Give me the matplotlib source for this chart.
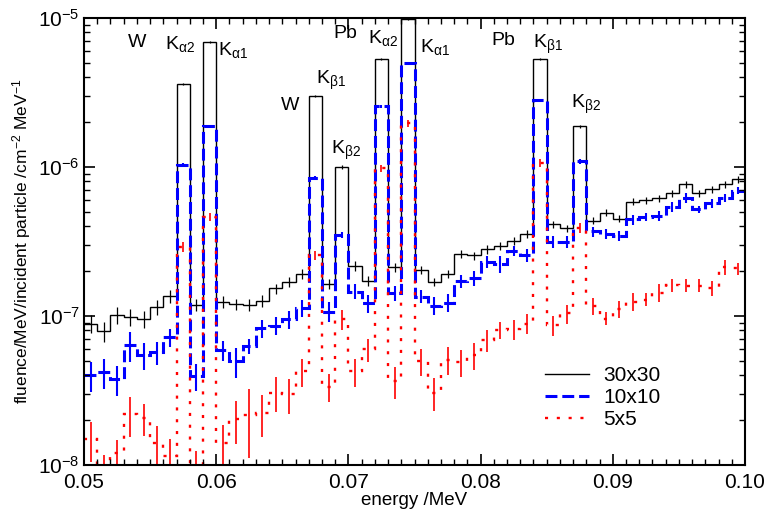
import numpy as np
import matplotlib
matplotlib.use("Agg")
import matplotlib.pyplot as plt
from matplotlib.lines import Line2D
from matplotlib.ticker import MultipleLocator, LogLocator, FuncFormatter, NullFormatter

plt.rcParams['font.family'] = ['Liberation Sans', 'DejaVu Sans']
plt.rcParams['mathtext.fontset'] = 'custom'
plt.rcParams['mathtext.rm'] = 'Liberation Sans'
plt.rcParams['mathtext.it'] = 'Liberation Sans'
plt.rcParams['mathtext.bf'] = 'Liberation Sans:bold'

# energy bins, 1 keV wide, 0.050 - 0.100 MeV
edges = np.round(np.arange(0.050, 0.1005, 0.001), 4)

# fluence per bin for the three field sizes
fl_30x30 = [8.9e-8, 7.9e-8, 1.02e-7, 9.8e-8, 9.5e-8, 1.15e-7, 1.36e-7, 3.6e-6, 1.19e-7, 6.9e-6,
            1.25e-7, 1.2e-7, 1.19e-7, 1.27e-7, 1.53e-7, 1.70e-7, 1.91e-7, 3.0e-6, 1.64e-7, 1.0e-6,
            2.17e-7, 1.72e-7, 5.3e-6, 2.12e-7, 9.9e-6, 2.04e-7, 1.70e-7, 1.92e-7, 2.61e-7, 2.55e-7,
            2.8e-7, 2.95e-7, 3.2e-7, 3.55e-7, 5.3e-6, 4.14e-7, 3.9e-7, 1.87e-6, 4.36e-7, 4.93e-7,
            4.5e-7, 5.85e-7, 6.0e-7, 6.2e-7, 6.65e-7, 7.65e-7, 6.7e-7, 7.1e-7, 7.65e-7, 8.3e-7]
fl_10x10 = [4.0e-8, 4.2e-8, 3.75e-8, 6.4e-8, 5.5e-8, 5.7e-8, 7.2e-8, 1.03e-6, 3.95e-8, 1.87e-6,
            5.9e-8, 5.0e-8, 6.3e-8, 8.3e-8, 8.6e-8, 9.5e-8, 1.13e-7, 8.4e-7, 1.07e-7, 3.5e-7,
            1.46e-7, 1.22e-7, 2.56e-6, 1.42e-7, 5.0e-6, 1.35e-7, 1.17e-7, 1.23e-7, 1.72e-7, 1.79e-7,
            2.32e-7, 2.25e-7, 2.74e-7, 2.57e-7, 2.8e-6, 3.15e-7, 3.15e-7, 1.09e-6, 3.7e-7, 3.55e-7,
            3.44e-7, 4.45e-7, 4.64e-7, 4.7e-7, 5.42e-7, 6.17e-7, 5.2e-7, 5.7e-7, 6.2e-7, 6.93e-7]
fl_5x5 = [1.5e-8, 9e-9, 1.2e-8, 2.2e-8, 2.06e-8, 1.4e-8, 1.15e-8, 2.9e-7, 9.5e-9, 4.6e-7,
          1.41e-8, 2.04e-8, 2.17e-8, 2.25e-8, 3.06e-8, 3.0e-8, 4.27e-8, 2.57e-7, 3.36e-8, 9.5e-8,
          4.27e-8, 5.97e-8, 9.8e-7, 3.68e-8, 1.96e-6, 5.0e-8, 3.06e-8, 5.07e-8, 4.9e-8, 5.47e-8,
          6.9e-8, 8.1e-8, 8.2e-8, 8.9e-8, 1.06e-6, 8.7e-8, 1.04e-7, 3.9e-7, 1.17e-7, 9.6e-8,
          1.11e-7, 1.25e-7, 1.29e-7, 1.43e-7, 1.62e-7, 1.6e-7, 1.6e-7, 1.54e-7, 2.14e-7, 2.09e-7]

# relative statistical uncertainty per bin
err_30x30 = [0.138, 0.153, 0.13, 0.13, 0.13, 0.115, 0.1, 0.02, 0.092, 0.02,
             0.092, 0.092, 0.092, 0.092, 0.077, 0.077, 0.077, 0.02, 0.077, 0.03,
             0.077, 0.077, 0.02, 0.062, 0.015, 0.062, 0.062, 0.062, 0.062, 0.062,
             0.062, 0.062, 0.062, 0.062, 0.02, 0.054, 0.054, 0.03, 0.054, 0.054,
             0.054, 0.054, 0.054, 0.054, 0.054, 0.054, 0.054, 0.054, 0.054, 0.054]
err_10x10 = [0.228, 0.228, 0.228, 0.228, 0.206, 0.176, 0.138, 0.03, 0.206, 0.025,
             0.153, 0.228, 0.115, 0.138, 0.138, 0.138, 0.13, 0.03, 0.153, 0.05,
             0.115, 0.138, 0.025, 0.115, 0.02, 0.1, 0.138, 0.138, 0.1, 0.115,
             0.092, 0.13, 0.077, 0.1, 0.025, 0.092, 0.092, 0.04, 0.077, 0.077,
             0.077, 0.077, 0.062, 0.077, 0.077, 0.077, 0.054, 0.062, 0.062, 0.054]
err_5x5 = [0.3, 0.3, 0.228, 0.3, 0.242, 0.314, 0.3, 0.077, 0.3, 0.06,
           0.314, 0.32, 0.49, 0.314, 0.264, 0.264, 0.213, 0.07, 0.213, 0.153,
           0.213, 0.176, 0.06, 0.242, 0.05, 0.206, 0.25, 0.213, 0.206, 0.206,
           0.168, 0.13, 0.153, 0.153, 0.06, 0.153, 0.145, 0.08, 0.13, 0.1,
           0.13, 0.138, 0.1, 0.138, 0.1, 0.1, 0.1, 0.115, 0.115, 0.092]

series = [
    ("30x30", fl_30x30, err_30x30, "black", "-", 1.0, 0.9),
    ("10x10", fl_10x10, err_10x10, "blue", (0, (3.9, 1.6)), 2.2, 1.5),
    ("5x5", fl_5x5, err_5x5, "red", (0, (1.3, 3.7)), 1.7, 1.2),
]

fig = plt.figure(figsize=(7.66, 5.14), dpi=100)
ax = fig.add_axes([0.1097, 0.0953, 0.8629, 0.8697])

centres = 0.5 * (edges[:-1] + edges[1:])
handles = []
for name, vals, rel, col, ls, lw, elw in series:
    vals = np.array(vals)
    ax.stairs(vals, edges, baseline=None, color=col, linestyle=ls, linewidth=lw)
    ax.errorbar(centres, vals, yerr=vals * np.array(rel), fmt='none',
                ecolor=col, elinewidth=elw, capsize=0)
    handles.append(Line2D([], [], color=col, linestyle=ls, linewidth=lw, label=name))

ax.set_yscale('log')
ax.set_xlim(0.05, 0.10)
ax.set_ylim(1e-8, 1e-5)

ax.xaxis.set_major_locator(MultipleLocator(0.01))
ax.xaxis.set_minor_locator(MultipleLocator(0.001))
ax.xaxis.set_major_formatter(FuncFormatter(lambda v, p: f"{v:.2f}"))
ax.yaxis.set_major_locator(LogLocator(base=10, numticks=10))
ax.yaxis.set_minor_locator(LogLocator(base=10, subs=np.arange(2, 10), numticks=20))
ax.yaxis.set_major_formatter(FuncFormatter(lambda v, p: r"10$^{%d}$" % round(np.log10(v))))
ax.yaxis.set_minor_formatter(NullFormatter())
ax.tick_params(which='both', direction='in', top=True, right=True, labelsize=15)
ax.tick_params(which='major', length=8, width=1.2)
ax.tick_params(which='minor', length=4, width=1.0)
ax.tick_params(axis='x', which='major', pad=6)
ax.tick_params(axis='y', which='major', pad=3)
for sp in ax.spines.values():
    sp.set_linewidth(1.5)

ax.set_xlabel("energy /MeV", fontsize=13.5, labelpad=0)
ax.set_ylabel(r"fluence/MeV/incident particle /cm$^{-2}$ MeV$^{-1}$", fontsize=12.5, labelpad=4)

# characteristic x-ray lines of tungsten and lead
fs = 14
ax.text(0.0540, 6.9e-6, "W", fontsize=fs, ha='center', va='center')
ax.text(0.05613, 6.7e-6, r"K$_{\alpha 2}$", fontsize=fs, ha='left', va='center')
ax.text(0.06014, 6.1e-6, r"K$_{\alpha 1}$", fontsize=fs, ha='left', va='center')
ax.text(0.06558, 2.57e-6, "W", fontsize=fs, ha='center', va='center')
ax.text(0.06755, 3.84e-6, r"K$_{\beta 1}$", fontsize=fs, ha='left', va='center')
ax.text(0.06868, 1.3e-6, r"K$_{\beta 2}$", fontsize=fs, ha='left', va='center')
ax.text(0.06974, 7.9e-6, "Pb", fontsize=fs, ha='center', va='center')
ax.text(0.07148, 7.3e-6, r"K$_{\alpha 2}$", fontsize=fs, ha='left', va='center')
ax.text(0.07542, 6.4e-6, r"K$_{\alpha 1}$", fontsize=fs, ha='left', va='center')
ax.text(0.08169, 7.1e-6, "Pb", fontsize=fs, ha='center', va='center')
ax.text(0.08396, 6.6e-6, r"K$_{\beta 1}$", fontsize=fs, ha='left', va='center')
ax.text(0.08684, 2.65e-6, r"K$_{\beta 2}$", fontsize=fs, ha='left', va='center')

ax.legend(handles=handles, loc='upper left', bbox_to_anchor=(0.685, 0.24),
          frameon=False, fontsize=15, handlelength=2.1, handletextpad=0.7,
          labelspacing=0.15, borderaxespad=0)

fig.savefig("out.png", dpi=100)
